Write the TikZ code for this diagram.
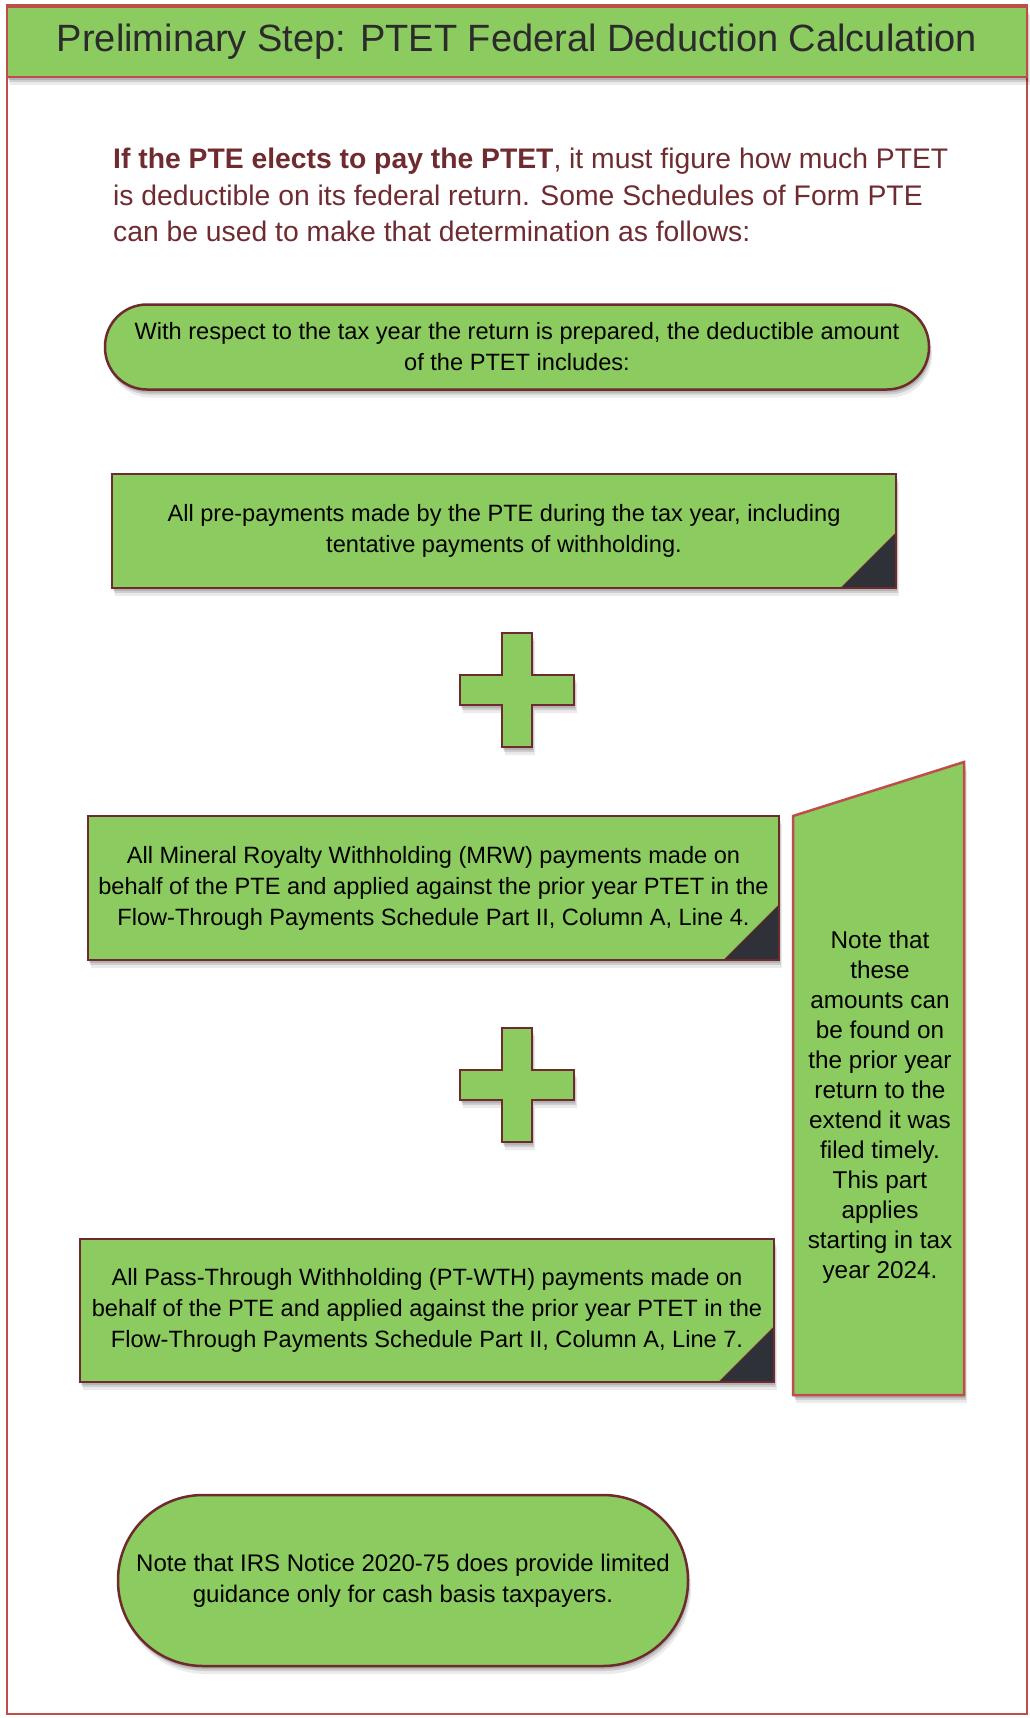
\documentclass[tikz,border=0pt]{standalone}
\usepackage{fontspec}
\setmainfont{Liberation Sans}
\usetikzlibrary{shadows,backgrounds}
\pgfdeclarelayer{bottom}
\pgfsetlayers{bottom,background,main}
\definecolor{gfill}{HTML}{8CCB5F}
\definecolor{maroon}{HTML}{6E2A2C}
\definecolor{framered}{HTML}{BF4D4B}
\definecolor{introcol}{HTML}{6F2B30}
\definecolor{foldcol}{HTML}{2E3138}
\definecolor{htext}{HTML}{2B2B2B}
\tikzset{
  shad/.style={drop shadow={shadow xshift=1pt,shadow yshift=-3pt,opacity=0.13,fill=black},
               drop shadow={shadow xshift=2pt,shadow yshift=-5pt,opacity=0.12,fill=black},
               drop shadow={shadow xshift=3pt,shadow yshift=-8pt,opacity=0.08,fill=black}},
  boxtext/.style={draw=none,fill=none,inner sep=0pt,outer sep=0pt,align=center,text=black,
    font=\fontsize{23.6}{31}\selectfont},
  pill/.style={boxtext,fill=gfill,draw=maroon,line width=2.5pt,shad},
  plusst/.style={fill=gfill,draw=maroon,line width=2.5pt,shad},
  notest/.style={fill=gfill,draw=framered,line width=2.5pt,shad},
}
\newcommand\foldbox[1]{%
  \fill[gfill,shad] (#1.north west) rectangle (#1.south east);
  \fill[foldcol] ([yshift=55pt]#1.south east) -- (#1.south east) -- ([xshift=-55pt]#1.south east) -- cycle;
  \draw[maroon,line width=1pt] ([yshift=55pt]#1.south east) -- ([xshift=-55pt]#1.south east);
  \draw[maroon,line width=2.5pt] (#1.north west) rectangle (#1.south east);
}
\newcommand\plusat[2]{%
  \path[plusst] ({#1-15},{#2-57}) -- ({#1+15},{#2-57}) -- ({#1+15},{#2-15}) -- ({#1+57},{#2-15})
    -- ({#1+57},{#2+15}) -- ({#1+15},{#2+15}) -- ({#1+15},{#2+57}) -- ({#1-15},{#2+57})
    -- ({#1-15},{#2+15}) -- ({#1-57},{#2+15}) -- ({#1-57},{#2-15}) -- ({#1-15},{#2-15}) -- cycle;
}
\begin{document}
\begin{tikzpicture}[x=1pt,y=-1pt]
\useasboundingbox (0,0) rectangle (1030,1718);
\begin{pgfonlayer}{bottom}
\fill[white] (0,0) rectangle (1030,1718);
\end{pgfonlayer}
% outer frame
\draw[framered,line width=2.5pt] (7,5) rectangle (1027,1714);
% header
\node[fill=gfill,draw=framered,line width=2.5pt,minimum width=1020pt,minimum height=70pt,
  inner sep=0pt,shad,text=htext,font=\fontsize{38}{44}\selectfont] (hdr) at (517,42)
  {Preliminary Step: PTET Federal Deduction Calculation};
% intro
\node[anchor=west,align=left,inner sep=0pt,text=introcol,font=\fontsize{28.3}{36.5}\selectfont] (intro) at (113,195)
  {\textbf{If the PTE elects to pay the PTET}, it must figure how much PTET\\
   is deductible on its federal return. Some Schedules of Form PTE\\
   can be used to make that determination as follows:};
% pill 1
\node[pill,minimum width=824pt,minimum height=85pt,rounded corners=42pt] (p1) at (517,347)
  {With respect to the tax year the return is prepared, the deductible amount\\ of the PTET includes:};
% box 2
\node[boxtext,minimum width=784pt,minimum height=114pt] (b2) at (504,531)
  {All pre-payments made by the PTE during the tax year, including\\ tentative payments of withholding.};
\begin{pgfonlayer}{background}\foldbox{b2}\end{pgfonlayer}
% plus 1
\plusat{517}{690}
% box 3
\node[boxtext,minimum width=691pt,minimum height=144pt] (b3) at (433.5,888)
  {All Mineral Royalty Withholding (MRW) payments made on\\ behalf of the PTE and applied against the prior year PTET in the\\ Flow-Through Payments Schedule Part II, Column A, Line 4.};
\begin{pgfonlayer}{background}\foldbox{b3}\end{pgfonlayer}
% plus 2
\plusat{517}{1085}
% box 4
\node[boxtext,minimum width=694pt,minimum height=143pt] (b4) at (427,1310.5)
  {All Pass-Through Withholding (PT-WTH) payments made on\\ behalf of the PTE and applied against the prior year PTET in the\\ Flow-Through Payments Schedule Part II, Column A, Line 7.};
\begin{pgfonlayer}{background}\foldbox{b4}\end{pgfonlayer}
% side note
\path[notest] (793,816) -- (964,762) -- (964,1395) -- (793,1395) -- cycle;
\node[align=center,inner sep=0pt,text=black,font=\fontsize{24.3}{30}\selectfont] (note) at (880,1107)
  {Note that\\ these\\ amounts can\\ be found on\\ the prior year\\ return to the\\ extend it was\\ filed timely.\\ This part\\ applies\\ starting in tax\\ year 2024.};
% bottom pill
\node[pill,minimum width=570pt,minimum height=171pt,rounded corners=85pt,font=\fontsize{24}{31}\selectfont] (p2) at (403,1580.5)
  {Note that IRS Notice 2020-75 does provide limited\\ guidance only for cash basis taxpayers.};
\end{tikzpicture}
\end{document}
